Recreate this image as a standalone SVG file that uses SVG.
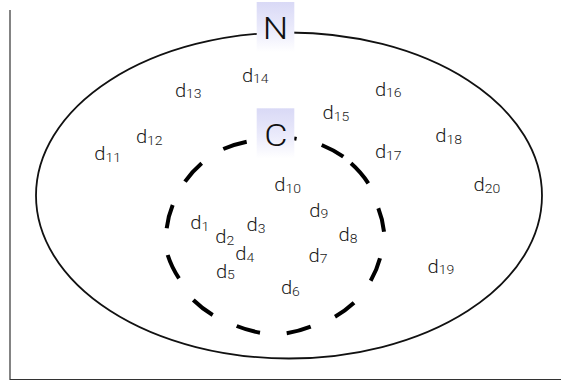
<svg xmlns="http://www.w3.org/2000/svg" width="561" height="381" viewBox="0 0 561 381">
<defs>
<linearGradient id="lab" x1="0" y1="0" x2="0" y2="1">
<stop offset="0" stop-color="#d9d9f6"/>
<stop offset="0.55" stop-color="#ebebfb"/>
<stop offset="1" stop-color="#ffffff"/>
</linearGradient>
</defs>
<style>
.axis{fill:none;stroke:#333;stroke-width:1.2}
.outer{fill:none;stroke:#111;stroke-width:1.8}
.dash{fill:none;stroke:#000;stroke-width:4;stroke-linecap:butt}
.box{fill:url(#lab);stroke:none}
.big{font-family:Roboto,"Liberation Sans",Arial,sans-serif;font-weight:300;font-size:32px;fill:#111;text-anchor:middle}
.d{font-family:Roboto,"Liberation Sans",Arial,sans-serif;font-weight:300;font-size:18px;fill:#1a1a1a}
.s{font-size:12.5px}
</style>
<rect width="561" height="381" fill="#fff"/>
<g id="axes">
<path class="axis" d="M10 10 V379.5 H561"/>
</g>
<g id="connectors"/>
<g id="N">
<ellipse class="outer" cx="289" cy="195.5" rx="253" ry="163"/>
<rect class="box" x="256.7" y="2" width="37.6" height="50"/>
<text class="big" transform="matrix(1.12 0 0 1 275.5 39.3)">N</text>
</g>
<g id="C">
<g id="C-boundary">
<path class="dash" d="M294 138.4 L296.6 138.9" stroke-width="3"/>
<path class="dash" d="M321.7 145 A109 97 0 0 1 343.3 156.7"/>
<path class="dash" d="M351 163.3 A109 97 0 0 1 368.3 183.3"/>
<path class="dash" d="M378.3 208.3 A109 97 0 0 1 384 231.7"/>
<path class="dash" d="M380 258.3 A109 97 0 0 1 370.7 280.7"/>
<path class="dash" d="M354 302.7 A109 97 0 0 1 335 316.7"/>
<path class="dash" d="M310.7 326.7 A109 97 0 0 1 286.7 333.3"/>
<path class="dash" d="M260 332.7 A109 97 0 0 1 236.7 326"/>
<path class="dash" d="M212.7 315 A109 97 0 0 1 193.3 300"/>
<path class="dash" d="M179 278.3 A109 97 0 0 1 167.7 255"/>
<path class="dash" d="M166.7 228.3 A109 97 0 0 1 172.7 205"/>
<path class="dash" d="M185 181.7 A109 97 0 0 1 201.7 163.3"/>
<path class="dash" d="M223.3 149 A109 97 0 0 1 246.7 141.7"/>
</g>
<rect class="box" x="256.7" y="108.3" width="37.6" height="50"/>
<text class="big" font-size="31" transform="matrix(1.12 0 0 1 275.8 146.3)">C</text>
</g>
<g id="d1"><text class="d" transform="matrix(1.12 0 0 1 190.2 229.3)">d<tspan class="s" dy="1.5">1</tspan></text></g>
<g id="d2"><text class="d" transform="matrix(1.12 0 0 1 215.2 243.3)">d<tspan class="s" dy="1.5">2</tspan></text></g>
<g id="d3"><text class="d" transform="matrix(1.12 0 0 1 246.5 231)">d<tspan class="s" dy="1.5">3</tspan></text></g>
<g id="d4"><text class="d" transform="matrix(1.12 0 0 1 235.2 260)">d<tspan class="s" dy="1.5">4</tspan></text></g>
<g id="d5"><text class="d" transform="matrix(1.12 0 0 1 215.9 277.7)">d<tspan class="s" dy="1.5">5</tspan></text></g>
<g id="d6"><text class="d" transform="matrix(1.12 0 0 1 280.9 294.3)">d<tspan class="s" dy="1.5">6</tspan></text></g>
<g id="d7"><text class="d" transform="matrix(1.12 0 0 1 308.5 261.7)">d<tspan class="s" dy="1.5">7</tspan></text></g>
<g id="d8"><text class="d" transform="matrix(1.12 0 0 1 338.5 241)">d<tspan class="s" dy="1.5">8</tspan></text></g>
<g id="d9"><text class="d" transform="matrix(1.12 0 0 1 309.2 216.7)">d<tspan class="s" dy="1.5">9</tspan></text></g>
<g id="d10"><text class="d" transform="matrix(1.12 0 0 1 274.2 191)">d<tspan class="s" dy="1.5">10</tspan></text></g>
<g id="d11"><text class="d" transform="matrix(1.12 0 0 1 94.2 160)">d<tspan class="s" dy="1.5">11</tspan></text></g>
<g id="d12"><text class="d" transform="matrix(1.12 0 0 1 135.9 143.3)">d<tspan class="s" dy="1.5">12</tspan></text></g>
<g id="d13"><text class="d" transform="matrix(1.12 0 0 1 174.9 96.7)">d<tspan class="s" dy="1.5">13</tspan></text></g>
<g id="d14"><text class="d" transform="matrix(1.12 0 0 1 241.9 81.7)">d<tspan class="s" dy="1.5">14</tspan></text></g>
<g id="d15"><text class="d" transform="matrix(1.12 0 0 1 322.5 119.3)">d<tspan class="s" dy="1.5">15</tspan></text></g>
<g id="d16"><text class="d" transform="matrix(1.12 0 0 1 374.9 95.7)">d<tspan class="s" dy="1.5">16</tspan></text></g>
<g id="d17"><text class="d" transform="matrix(1.12 0 0 1 374.9 158.3)">d<tspan class="s" dy="1.5">17</tspan></text></g>
<g id="d18"><text class="d" transform="matrix(1.12 0 0 1 435.2 142.3)">d<tspan class="s" dy="1.5">18</tspan></text></g>
<g id="d19"><text class="d" transform="matrix(1.12 0 0 1 427.5 272.7)">d<tspan class="s" dy="1.5">19</tspan></text></g>
<g id="d20"><text class="d" transform="matrix(1.12 0 0 1 473.5 191)">d<tspan class="s" dy="1.5">20</tspan></text></g>
</svg>
